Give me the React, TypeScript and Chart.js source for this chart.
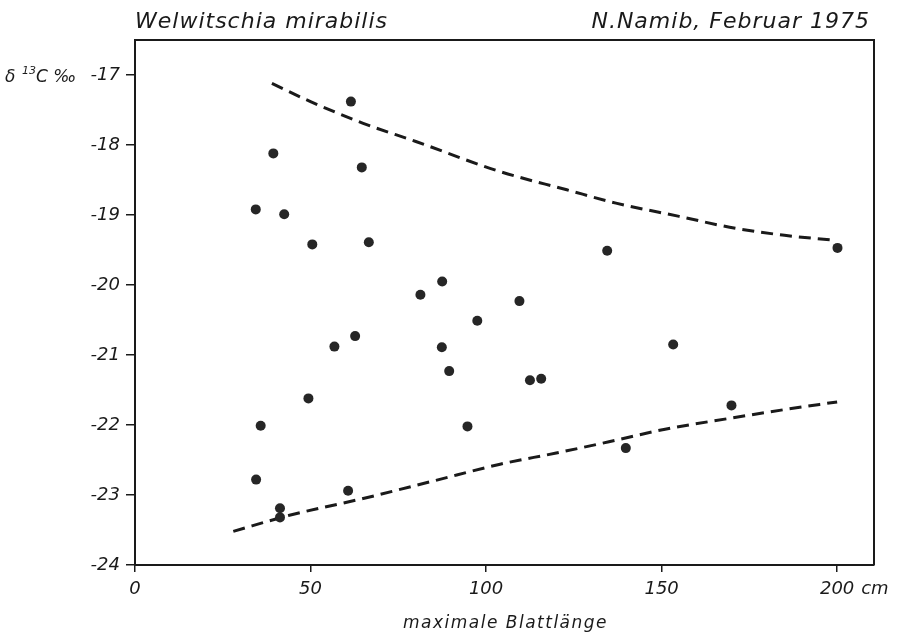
import React, { useEffect, useRef } from 'react';
import { Chart, registerables } from 'chart.js';

Chart.register(...registerables);

// Measured points: maximale Blattlänge (cm) vs δ13C (‰)
const leafLength = [
  61.5, 39.4, 64.6, 34.4, 42.5, 50.5, 66.6, 87.5, 81.3, 97.5,
  56.8, 62.7, 87.4, 89.5, 49.4, 35.8, 94.7, 34.5, 60.7, 41.3,
  41.3, 134.5, 109.5, 200.1, 112.5, 115.7, 153.3, 169.9, 139.8,
];
const delta13C = [
  -17.38, -18.12, -18.32, -18.92, -18.99, -19.42, -19.39, -19.95, -20.14, -20.51,
  -20.88, -20.73, -20.89, -21.23, -21.62, -22.01, -22.02, -22.78, -22.94, -23.19,
  -23.32, -19.51, -20.23, -19.47, -21.36, -21.34, -20.85, -21.72, -22.33,
];

// Upper envelope (dashed)
const upperX = [39, 50, 65, 80, 104, 123, 137, 155, 171, 185, 199];
const upperY = [-17.12, -17.38, -17.69, -17.95, -18.38, -18.64, -18.83, -19.02, -19.19, -19.29, -19.36];

// Lower envelope (dashed)
const lowerX = [28, 44, 65, 85, 104, 120, 135, 151, 170, 185, 200];
const lowerY = [-23.52, -23.29, -23.05, -22.8, -22.56, -22.4, -22.24, -22.06, -21.9, -21.78, -21.67];

const xTicks = [0, 50, 100, 150, 200];
const yTicks = [-24, -23, -22, -21, -20, -19, -18, -17];

const titleLeft = 'Welwitschia mirabilis';
const titleRight = 'N.Namib, Februar 1975';
const xAxisTitle = 'maximale Blattlänge';
const yUnitDelta = 'δ';
const yUnitSup = '13';
const yUnitRest = 'C ‰';
const xUnit = 'cm';

const INK = '#1a1a1a';
const FONT = '"DejaVu Sans", sans-serif';

export default function App() {
  const ref = useRef<HTMLCanvasElement | null>(null);

  useEffect(() => {
    document.body.style.margin = '0';
    const canvas = ref.current;
    if (!canvas) return;

    const decor = {
      id: 'decor',
      beforeDraw(chart: any) {
        const { ctx } = chart;
        ctx.save();
        ctx.fillStyle = '#ffffff';
        ctx.fillRect(0, 0, chart.width, chart.height);
        ctx.restore();
      },
      afterDraw(chart: any) {
        const { ctx, chartArea, scales } = chart;
        const { left, right, top, bottom } = chartArea;
        ctx.save();
        ctx.strokeStyle = INK;
        ctx.lineWidth = 2;
        ctx.beginPath();
        ctx.moveTo(left, top);
        ctx.lineTo(right, top);
        ctx.lineTo(right, bottom);
        ctx.stroke();

        ctx.fillStyle = INK;
        ctx.font = `italic 22px ${FONT}`;
        (ctx as any).letterSpacing = '1px';
        ctx.textBaseline = 'alphabetic';
        ctx.textAlign = 'left';
        ctx.fillText(titleLeft, left, 28);
        ctx.textAlign = 'right';
        ctx.fillText(titleRight, right - 4, 28);

        // x axis title, letter-spaced
        ctx.font = `italic 17px ${FONT}`;
        (ctx as any).letterSpacing = '1.5px';
        ctx.textAlign = 'center';
        ctx.fillText(xAxisTitle, (left + right) / 2 + 1, 628);

        // y unit label: δ ¹³C ‰
        (ctx as any).letterSpacing = '0px';
        const yBase = scales.y.getPixelForValue(-17) + 7;
        ctx.textAlign = 'left';
        ctx.font = `italic 17px ${FONT}`;
        ctx.fillText(yUnitDelta, 5, yBase);
        ctx.font = `italic 11px ${FONT}`;
        ctx.fillText(yUnitSup, 22, yBase - 8);
        ctx.font = `italic 17px ${FONT}`;
        ctx.fillText(yUnitRest, 36, yBase);

        // x unit "cm"
        ctx.font = `italic 18px ${FONT}`;
        ctx.textAlign = 'left';
        ctx.fillText(xUnit, scales.x.getPixelForValue(200) + 24, bottom + 29);
        ctx.restore();
      },
    };

    const chart = new Chart(canvas, {
      type: 'line',
      data: {
        datasets: [
          {
            type: 'scatter',
            data: leafLength.map((x, i) => ({ x, y: delta13C[i] })),
            backgroundColor: '#262626',
            borderWidth: 0,
            pointRadius: 5,
          } as any,
          {
            type: 'line',
            data: upperX.map((x, i) => ({ x, y: upperY[i] })),
            borderColor: INK,
            borderWidth: 3,
            borderDash: [12, 7],
            pointRadius: 0,
            cubicInterpolationMode: 'monotone',
            fill: false,
          },
          {
            type: 'line',
            data: lowerX.map((x, i) => ({ x, y: lowerY[i] })),
            borderColor: INK,
            borderWidth: 3,
            borderDash: [12, 7],
            pointRadius: 0,
            cubicInterpolationMode: 'monotone',
            fill: false,
          },
        ],
      },
      options: {
        responsive: false,
        animation: false,
        devicePixelRatio: 1,
        layout: { padding: { left: 0, right: 24, top: 40, bottom: 0 } },
        plugins: {
          legend: { display: false },
          tooltip: { enabled: false },
        },
        scales: {
          x: {
            type: 'linear',
            min: 0,
            max: 210.5,
            afterBuildTicks: (s: any) => {
              s.ticks = xTicks.map((v) => ({ value: v }));
            },
            afterFit: (s: any) => {
              s.height = 72;
            },
            ticks: {
              color: INK,
              font: { family: FONT, size: 18, style: 'italic' },
              padding: 7,
              maxRotation: 0,
              autoSkip: false,
              callback: (v: any) => String(v),
            },
            grid: {
              drawOnChartArea: false,
              drawTicks: true,
              tickLength: 7,
              color: INK,
              lineWidth: 1.5,
            },
            border: { color: INK, width: 2 },
            title: { display: false },
          },
          y: {
            type: 'linear',
            min: -24,
            max: -16.5,
            afterBuildTicks: (s: any) => {
              s.ticks = yTicks.map((v) => ({ value: v }));
            },
            afterFit: (s: any) => {
              s.width = 135;
            },
            ticks: {
              color: INK,
              font: { family: FONT, size: 18, style: 'italic' },
              padding: 6,
              autoSkip: false,
              callback: (v: any) => String(v),
            },
            grid: {
              drawOnChartArea: false,
              drawTicks: true,
              tickLength: 9,
              color: INK,
              lineWidth: 1.5,
            },
            border: { color: INK, width: 2 },
          },
        },
      },
      plugins: [decor],
    } as any);

    return () => chart.destroy();
  }, []);

  return (
    <div style={{ width: 898, height: 637, position: 'relative' }}>
      <canvas ref={ref} width={898} height={637} />
    </div>
  );
}
